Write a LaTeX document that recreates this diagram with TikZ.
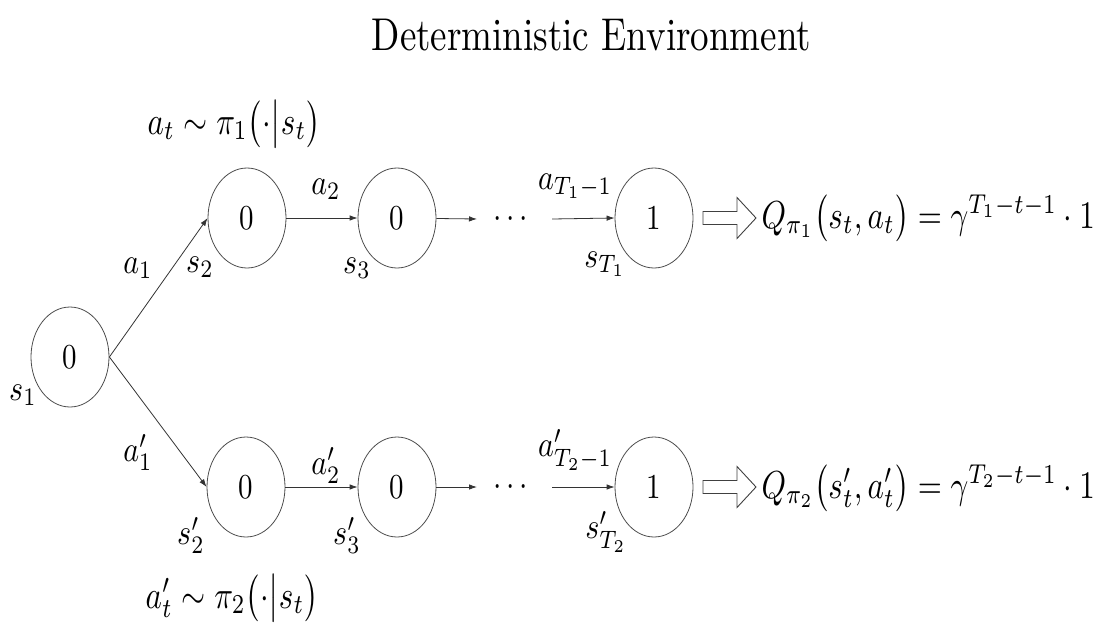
\documentclass[tikz,border=0pt]{standalone}
\usepackage{amsmath}
\usetikzlibrary{shapes.geometric,arrows.meta}
\tikzset{
  state/.style={ellipse, draw=black!70, line width=0.8pt, minimum width=78pt, minimum height=100pt, inner sep=0pt},
  digit/.style={inner sep=0pt, xscale=2.9, yscale=3.5},
  lbl/.style={inner sep=0pt, xscale=3.0, yscale=3.6},
  trans/.style={-{Latex[length=8pt,width=5.5pt]}, line width=0.8pt, draw=black!80},
  formula/.style={inner sep=0pt, xscale=3.1, yscale=3.9, anchor=base west},
  hollow/.style={draw=black!75, line width=0.9pt, fill=white},
}
\begin{document}
\begin{tikzpicture}[x=1pt,y=-1pt]
\useasboundingbox (0,0) rectangle (1099,624);
\node[inner sep=0pt, xscale=3.7, yscale=4.6, anchor=base west] (title) at (371,50) {Deterministic Environment};
\node[formula] (pol1) at (147,134) {$a_t\sim\pi_1\bigl(\cdot\big|s_t\bigr)$};
\node[formula] (pol2) at (145,608) {$a'_t\sim\pi_2\bigl(\cdot\big|s_t\bigr)$};
% states
\node[state] (s1) at (70,357) {};
\node[state] (s2) at (247,218) {};
\node[state] (s3) at (397,218) {};
\node[state] (sT) at (654,218) {};
\node[state] (u2) at (246,487) {};
\node[state] (u3) at (397,487) {};
\node[state] (uT) at (654,487) {};
\foreach \n/\v in {s1/0,s2/0,s3/0,sT/1,u2/0,u3/0,uT/1}{
  \node[digit] (v\n) at (\n.center) {\v};
}
% state labels
\node[lbl] (ls1) at (23,395) {$s_1$};
\node[lbl] (ls2) at (200,267) {$s_2$};
\node[lbl] (ls3) at (357,268) {$s_3$};
\node[lbl] (lsT) at (605,264) {$s_{T_1}$};
\node[lbl] (lu2) at (191,535) {$s'_2$};
\node[lbl] (lu3) at (347,535) {$s'_3$};
\node[lbl] (luT) at (606,532) {$s'_{T_2}$};
% transitions
\coordinate (c1) at (477,219);
\coordinate (c2) at (552,219);
\coordinate (d1) at (477,487);
\coordinate (d2) at (552,487);
\draw[trans] (s1.east) -- (s2.west);
\draw[trans] (s1.east) -- (u2.west);
\draw[trans] (s2) -- (s3);
\draw[trans] (s3) -- (c1);
\draw[trans] (c2) -- (sT.west);
\draw[trans] (u2) -- (u3);
\draw[trans] (u3) -- (d1);
\draw[trans] (d2) -- (uT.west);
\node[lbl] (dots1) at (513,219) {$\cdots$};
\node[lbl] (dots2) at (513,487) {$\cdots$};
% action labels
\node[lbl] (la1) at (138,268) {$a_1$};
\node[lbl] (la2) at (326,189) {$a_2$};
\node[lbl] (laT) at (575,186) {$a_{T_1-1}$};
\node[lbl] (lb1) at (138,452) {$a'_1$};
\node[lbl] (lb2) at (326,465) {$a'_2$};
\node[lbl] (lbT) at (575,450) {$a'_{T_2-1}$};
% hollow arrows
\foreach \yy in {218,487}{
  \draw[hollow] (703,\yy-6.5) -- (737,\yy-6.5) -- (737,\yy-20.5) -- (756,\yy) -- (737,\yy+20.5) -- (737,\yy+6.5) -- (703,\yy+6.5) -- cycle;
}
\node[formula] (q1) at (761,228) {$Q_{\pi_1}\bigl(s_t,a_t\bigr)=\gamma^{T_1-t-1}\cdot 1$};
\node[formula] (q2) at (761,498) {$Q_{\pi_2}\bigl(s'_t,a'_t\bigr)=\gamma^{T_2-t-1}\cdot 1$};
\end{tikzpicture}
\end{document}
